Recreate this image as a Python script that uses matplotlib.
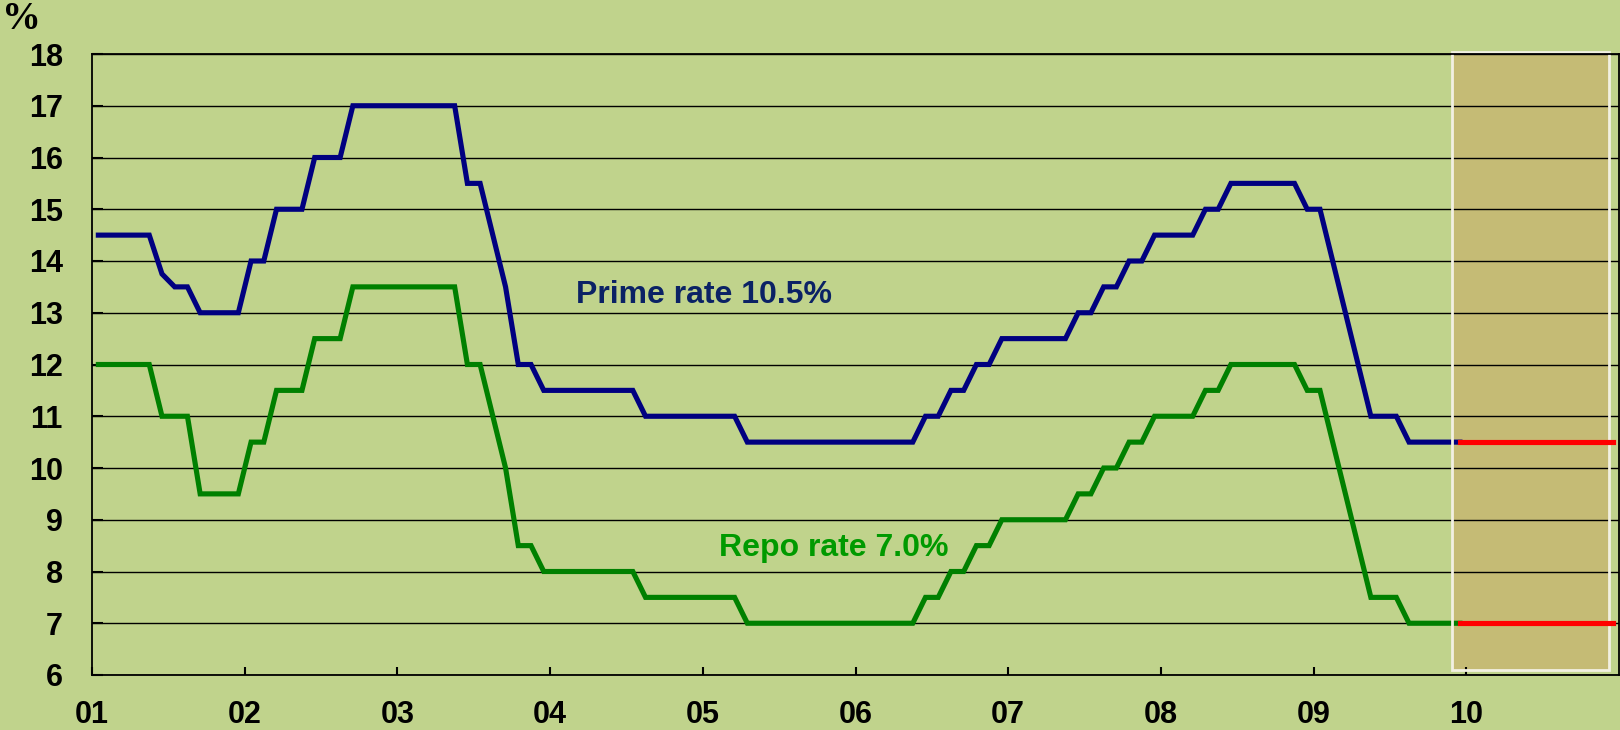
import matplotlib.pyplot as plt
import numpy as np
from matplotlib.patches import Rectangle

# monthly rates (%), Jan 2001 .. Dec 2009
prime_2001 = [14.5, 14.5, 14.5, 14.5, 14.5, 13.75, 13.5, 13.5, 13.0, 13.0, 13.0, 13.0]
prime_2002 = [14.0, 14.0, 15.0, 15.0, 15.0, 16.0, 16.0, 16.0, 17.0, 17.0, 17.0, 17.0]
prime_2003 = [17.0, 17.0, 17.0, 17.0, 17.0, 15.5, 15.5, 14.5, 13.5, 12.0, 12.0, 11.5]
prime_2004 = [11.5, 11.5, 11.5, 11.5, 11.5, 11.5, 11.5, 11.0, 11.0, 11.0, 11.0, 11.0]
prime_2005 = [11.0, 11.0, 11.0, 10.5, 10.5, 10.5, 10.5, 10.5, 10.5, 10.5, 10.5, 10.5]
prime_2006 = [10.5, 10.5, 10.5, 10.5, 10.5, 11.0, 11.0, 11.5, 11.5, 12.0, 12.0, 12.5]
prime_2007 = [12.5, 12.5, 12.5, 12.5, 12.5, 13.0, 13.0, 13.5, 13.5, 14.0, 14.0, 14.5]
prime_2008 = [14.5, 14.5, 14.5, 15.0, 15.0, 15.5, 15.5, 15.5, 15.5, 15.5, 15.5, 15.0]
prime_2009 = [15.0, 14.0, 13.0, 12.0, 11.0, 11.0, 11.0, 10.5, 10.5, 10.5, 10.5, 10.5]

repo_2001 = [12.0, 12.0, 12.0, 12.0, 12.0, 11.0, 11.0, 11.0, 9.5, 9.5, 9.5, 9.5]
repo_2002 = [10.5, 10.5, 11.5, 11.5, 11.5, 12.5, 12.5, 12.5, 13.5, 13.5, 13.5, 13.5]
repo_2003 = [13.5, 13.5, 13.5, 13.5, 13.5, 12.0, 12.0, 11.0, 10.0, 8.5, 8.5, 8.0]
repo_2004 = [8.0, 8.0, 8.0, 8.0, 8.0, 8.0, 8.0, 7.5, 7.5, 7.5, 7.5, 7.5]
repo_2005 = [7.5, 7.5, 7.5, 7.0, 7.0, 7.0, 7.0, 7.0, 7.0, 7.0, 7.0, 7.0]
repo_2006 = [7.0, 7.0, 7.0, 7.0, 7.0, 7.5, 7.5, 8.0, 8.0, 8.5, 8.5, 9.0]
repo_2007 = [9.0, 9.0, 9.0, 9.0, 9.0, 9.5, 9.5, 10.0, 10.0, 10.5, 10.5, 11.0]
repo_2008 = [11.0, 11.0, 11.0, 11.5, 11.5, 12.0, 12.0, 12.0, 12.0, 12.0, 12.0, 11.5]
repo_2009 = [11.5, 10.5, 9.5, 8.5, 7.5, 7.5, 7.5, 7.0, 7.0, 7.0, 7.0, 7.0]

# flat projection Dec 2009 .. Dec 2010
forecast_prime = [10.5, 10.5, 10.5, 10.5, 10.5, 10.5, 10.5, 10.5, 10.5, 10.5, 10.5, 10.5, 10.5]
forecast_repo = [7.0, 7.0, 7.0, 7.0, 7.0, 7.0, 7.0, 7.0, 7.0, 7.0, 7.0, 7.0, 7.0]

year_labels = ["01", "02", "03", "04", "05", "06", "07", "08", "09", "10"]

prime = prime_2001 + prime_2002 + prime_2003 + prime_2004 + prime_2005 + prime_2006 + prime_2007 + prime_2008 + prime_2009
repo = repo_2001 + repo_2002 + repo_2003 + repo_2004 + repo_2005 + repo_2006 + repo_2007 + repo_2008 + repo_2009

# points sit in the middle of each month
months = np.arange(len(prime)) + 0.5
forecast_months = np.arange(len(prime) - 1, len(prime) - 1 + len(forecast_prime)) + 0.5

BG = "#c0d38c"
plt.rcParams['font.family'] = ['Liberation Sans', 'DejaVu Sans']
plt.rcParams['font.weight'] = 'bold'

fig = plt.figure(figsize=(16.2, 7.3), dpi=100, facecolor=BG)
ax = fig.add_axes([92 / 1620, 1 - 675 / 730, 1527 / 1620, 621 / 730])
ax.set_facecolor(BG)

# shaded forecast box
ax.add_patch(Rectangle((106.9, 6.1), 12.3, 11.93, facecolor="#c5bb75", edgecolor="none", zorder=0.3, clip_on=False))
ax.add_patch(Rectangle((106.9, 6.1), 12.3, 11.93, facecolor="none", edgecolor="#f2f0e2", lw=2, zorder=2.5, clip_on=False))

ax.plot(months, prime, color="#000080", lw=3.7, solid_joinstyle='miter', zorder=2)
ax.plot(months, repo, color="#008000", lw=3.7, solid_joinstyle='miter', zorder=2)
ax.plot(forecast_months, forecast_prime, color="#ff0000", lw=3.7, zorder=3)
ax.plot(forecast_months, forecast_repo, color="#ff0000", lw=3.7, zorder=3)

ax.text(48.1, 13.18, "Prime rate 10.5%", color="#0b2265", fontsize=23, fontweight='bold', ha='center', va='baseline')
ax.text(58.3, 8.30, "Repo rate 7.0%", color="#009a00", fontsize=23, fontweight='bold', ha='center', va='baseline')

ax.set_xlim(0, 120)
ax.set_ylim(6, 18)
ax.set_xticks(np.arange(0, 120, 12))
ax.set_xticklabels(year_labels)
ax.set_yticks(np.arange(6, 19, 1))
ax.set_axisbelow(True)
ax.grid(axis='y', color='black', lw=1.0)
ax.tick_params(axis='x', direction='in', length=6, width=1.5, pad=18, labelsize=22)
ax.tick_params(axis='y', direction='in', length=8, width=1.5, pad=21, labelsize=22)
for s in ax.spines.values():
    s.set_linewidth(1.3)
    s.set_color('black')

fig.text(2 / 1620, 1 - 1 / 730, "%", fontsize=28, fontweight='bold', family=['Liberation Serif', 'DejaVu Serif'], ha='left', va='top')

fig.savefig("out.png", dpi=100, facecolor=BG)
